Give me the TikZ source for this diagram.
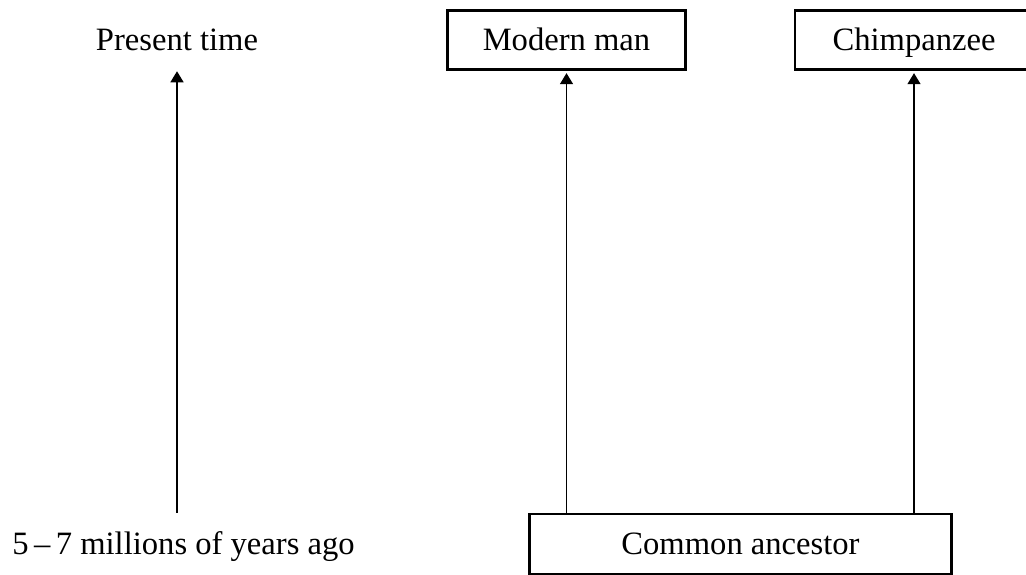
\documentclass[tikz,border=0pt]{standalone}
\usepackage{fontspec}
\setmainfont{Liberation Serif}
\usetikzlibrary{arrows.meta,positioning}
\def\boxwidth{119pt}
\def\boxheight{29.75pt}
\def\rootwidth{211pt}
\def\rootheight{30pt}
\def\boxline{1.4pt}

\begin{document}
\begin{tikzpicture}[x=0.5pt,y=-0.5pt,shorten >=1pt,myarrow/.style={-{Triangle[length=5.5pt,width=6.5pt]},line width=0.65pt}]
    \tikzstyle{annot}=[inner sep=0pt,text height=0.75em,text depth=0.1em];
    \tikzstyle{species}=[annot,draw=black,line width=\boxline,minimum width=\boxwidth,minimum height=\boxheight];
    \tikzstyle{ancestor}=[species,minimum width=\rootwidth,minimum height=\rootheight];

    \fontsize{16.3}{19.5}\selectfont
    \useasboundingbox (0,0) rectangle (1026,574);
    \clip (0,0) rectangle (1026,574);

    % Draw the nodes
    \node[species] (mm) at (566.5,40) {Modern man};
    \node[species] (ch) at (914,40) {Chimpanzee};
    \node[ancestor] (ca) at (740.5,544) {Common ancestor};

    \node[annot] (present) at (177,40) {Present time};
    \node[annot,anchor=west] (past) at (12,544) {5\,--\,7 millions of years ago};

    % Connect every node
    \foreach \dest in {mm,ch}
        \draw [myarrow] (ca.north -| \dest) -- (\dest.south);

    \draw [myarrow,shorten >=8.5pt] (ca.north -| present) -- (present.south);
\end{tikzpicture}
\end{document}
